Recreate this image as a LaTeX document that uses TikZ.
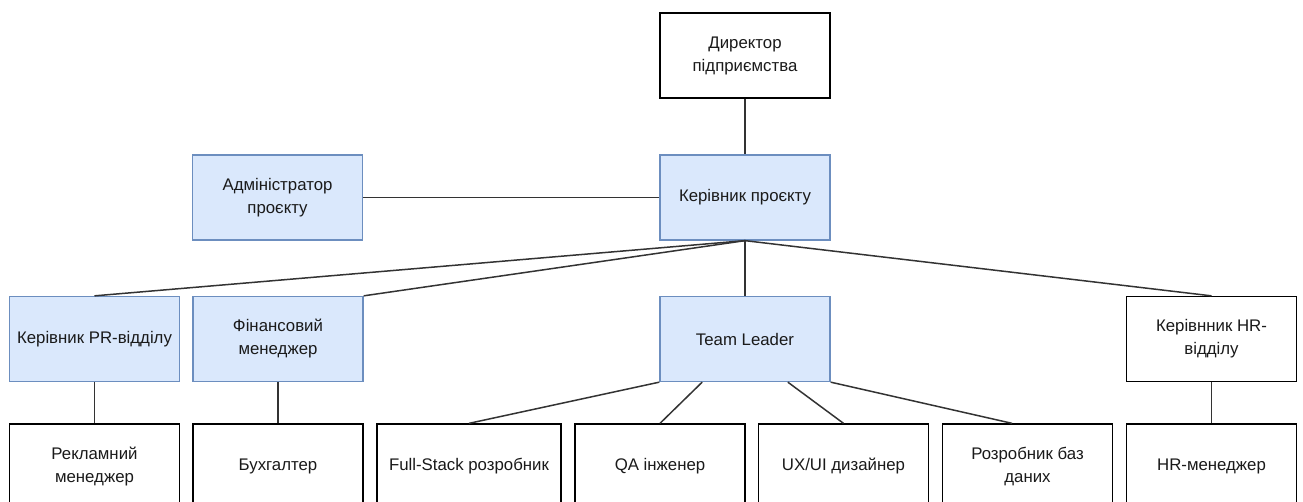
\documentclass[tikz,border=0pt]{standalone}
\usepackage{fontspec}
\setmainfont{Liberation Sans}
\usetikzlibrary{calc}
\definecolor{bluefill}{HTML}{DAE8FC}
\definecolor{bluedraw}{HTML}{6C8EBF}
\definecolor{linecol}{HTML}{333333}
\definecolor{txtcol}{HTML}{1A1A1A}
\tikzset{
  box/.style={draw=black, line width=1.3pt, fill=white, minimum width=170pt, minimum height=85pt,
    align=center, inner sep=2pt, text=txtcol, font=\fontsize{16.8}{23}\selectfont},
  bluebox/.style={box, draw=bluedraw, fill=bluefill},
  conn/.style={draw=linecol, line width=1.5pt}
}
\begin{document}
\begin{tikzpicture}[x=1pt,y=-1pt]
\useasboundingbox (0,0) rectangle (1303,502);
\clip (0,0) rectangle (1303,502);
% row 1
\node[box] (dir) at (745,55.5) {Директор\\підприємства};
% row 2
\node[bluebox] (pm) at (745,197.5) {Керівник проєкту};
\node[bluebox] (adm) at (277.5,197.5) {Адміністратор\\проєкту};
% row 3
\node[bluebox] (pr) at (94.5,339) {Керівник PR-відділу};
\node[bluebox] (fin) at (278,339) {Фінансовий\\менеджер};
\node[bluebox] (tl) at (745,339) {Team Leader};
\node[box] (hr) at (1211.5,339) {Керівнник HR-\\відділу};
% row 4
\node[box] (rek) at (94.5,466.5) {Рекламний\\менеджер};
\node[box] (buh) at (278,466.5) {Бухгалтер};
\node[box, minimum width=184pt] (fs) at (469,466.5) {Full-Stack розробник};
\node[box] (qa) at (660,466.5) {QA інженер};
\node[box] (ux) at (843.5,466.5) {UX/UI дизайнер};
\node[box] (db) at (1027.5,466.5) {Розробник баз\\даних};
\node[box] (hrm) at (1211.5,466.5) {HR-менеджер};
% connectors
\draw[conn] (dir.south) -- (pm.north);
\draw[conn] (adm.east) -- (pm.west);
\draw[conn] (pm.south) -- (pr.north);
\draw[conn] (pm.south) -- (fin.north east);
\draw[conn] (pm.south) -- (tl.north);
\draw[conn] (pm.south) -- (hr.north);
\draw[conn] (pr.south) -- (rek.north);
\draw[conn] (fin.south) -- (buh.north);
\draw[conn] (hr.south) -- (hrm.north);
\draw[conn] (tl.south west) -- (fs.north);
\draw[conn] ($(tl.south west)!0.25!(tl.south east)$) -- (qa.north);
\draw[conn] ($(tl.south west)!0.75!(tl.south east)$) -- (ux.north);
\draw[conn] (tl.south east) -- ($(db.north west)!0.41!(db.north east)$);
\end{tikzpicture}
\end{document}
